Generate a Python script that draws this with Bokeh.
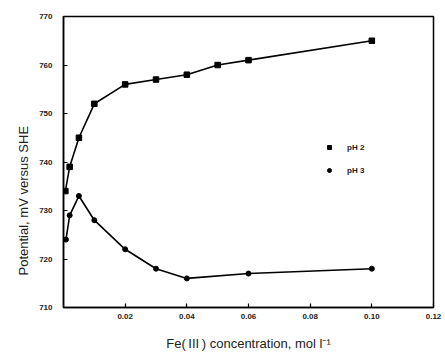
from bokeh.plotting import figure
from bokeh.models import Range1d, FixedTicker, Legend, LegendItem, Title
from bokeh.embed import file_html
from bokeh.resources import INLINE

# Data
ph2_x = [0.0006, 0.002, 0.005, 0.01, 0.02, 0.03, 0.04, 0.05, 0.06, 0.10]
ph2_y = [734, 739, 745, 752, 756, 757, 758, 760, 761, 765]
ph3_x = [0.0008, 0.002, 0.005, 0.01, 0.02, 0.03, 0.04, 0.06, 0.10]
ph3_y = [724, 729, 733, 728, 722, 718, 716, 717, 718]
x_ticks = [0.02, 0.04, 0.06, 0.08, 0.10, 0.12]
x_tick_labels = ["0.02", "0.04", "0.06", "0.08", "0.10", "0.12"]
y_ticks = [710, 720, 730, 740, 750, 760, 770]
series_names = ["pH 2", "pH 3"]
x_title = "Fe(\u2009III\u2009) concentration, mol l\u207b\u00b9"
y_title = "Potential, mV versus SHE"

p = figure(width=445, height=354, output_backend="svg", toolbar_location=None,
           x_range=Range1d(0, 0.12), y_range=Range1d(710, 770),
           min_border_left=63, min_border_right=12, min_border_top=16, min_border_bottom=47)
p.grid.visible = False
p.outline_line_color = "black"
p.outline_line_width = 1.5
p.background_fill_color = "white"
p.border_fill_color = "white"

for ax in (p.xaxis[0], p.yaxis[0]):
    ax.axis_line_width = 1.5
    ax.axis_line_color = "black"
    ax.major_tick_in = 4
    ax.major_tick_out = 0
    ax.minor_tick_in = 0
    ax.minor_tick_out = 0
    ax.major_tick_line_width = 1.2
    ax.major_label_text_font = "Liberation Sans"
    ax.major_label_text_font_size = "8px"
    ax.major_label_text_font_style = "bold"
    ax.major_label_text_color = "#222222"
    ax.axis_label_text_font = "Liberation Sans"
    ax.axis_label_text_font_size = "13px"
    ax.axis_label_text_font_style = "normal"
    ax.axis_label_text_color = "#222222"

p.xaxis.ticker = FixedTicker(ticks=x_ticks)
p.xaxis.major_label_overrides = {t: l for t, l in zip(x_ticks, x_tick_labels)}
p.xaxis.major_label_standoff = 6
p.xaxis.axis_label = x_title
p.xaxis.axis_label_standoff = 14
p.yaxis.ticker = FixedTicker(ticks=y_ticks)
p.yaxis.major_label_standoff = 11

p.add_layout(Title(text=y_title, align="left", offset=32, standoff=12,
                   text_font="Liberation Sans", text_font_size="13px",
                   text_font_style="normal", text_color="#222222"), "left")

p.line(ph2_x, ph2_y, line_color="black", line_width=1.6)
p.line(ph3_x, ph3_y, line_color="black", line_width=1.6)
s2 = p.scatter(ph2_x, ph2_y, marker="square", size=5.5, color="black")
s3 = p.scatter(ph3_x, ph3_y, marker="circle", size=5, color="black")

legend = Legend(items=[LegendItem(label=series_names[0], renderers=[s2]),
                       LegendItem(label=series_names[1], renderers=[s3])],
                location=(261, 129), orientation="vertical",
                padding=0, margin=0, spacing=7,
                glyph_width=10, glyph_height=16, label_height=16,
                label_standoff=13,
                label_text_font="Liberation Sans", label_text_font_size="8px",
                label_text_font_style="bold", label_text_color="#222222",
                border_line_color=None, background_fill_alpha=0)
p.add_layout(legend)

open("out.html", "w").write(file_html(p, INLINE))
